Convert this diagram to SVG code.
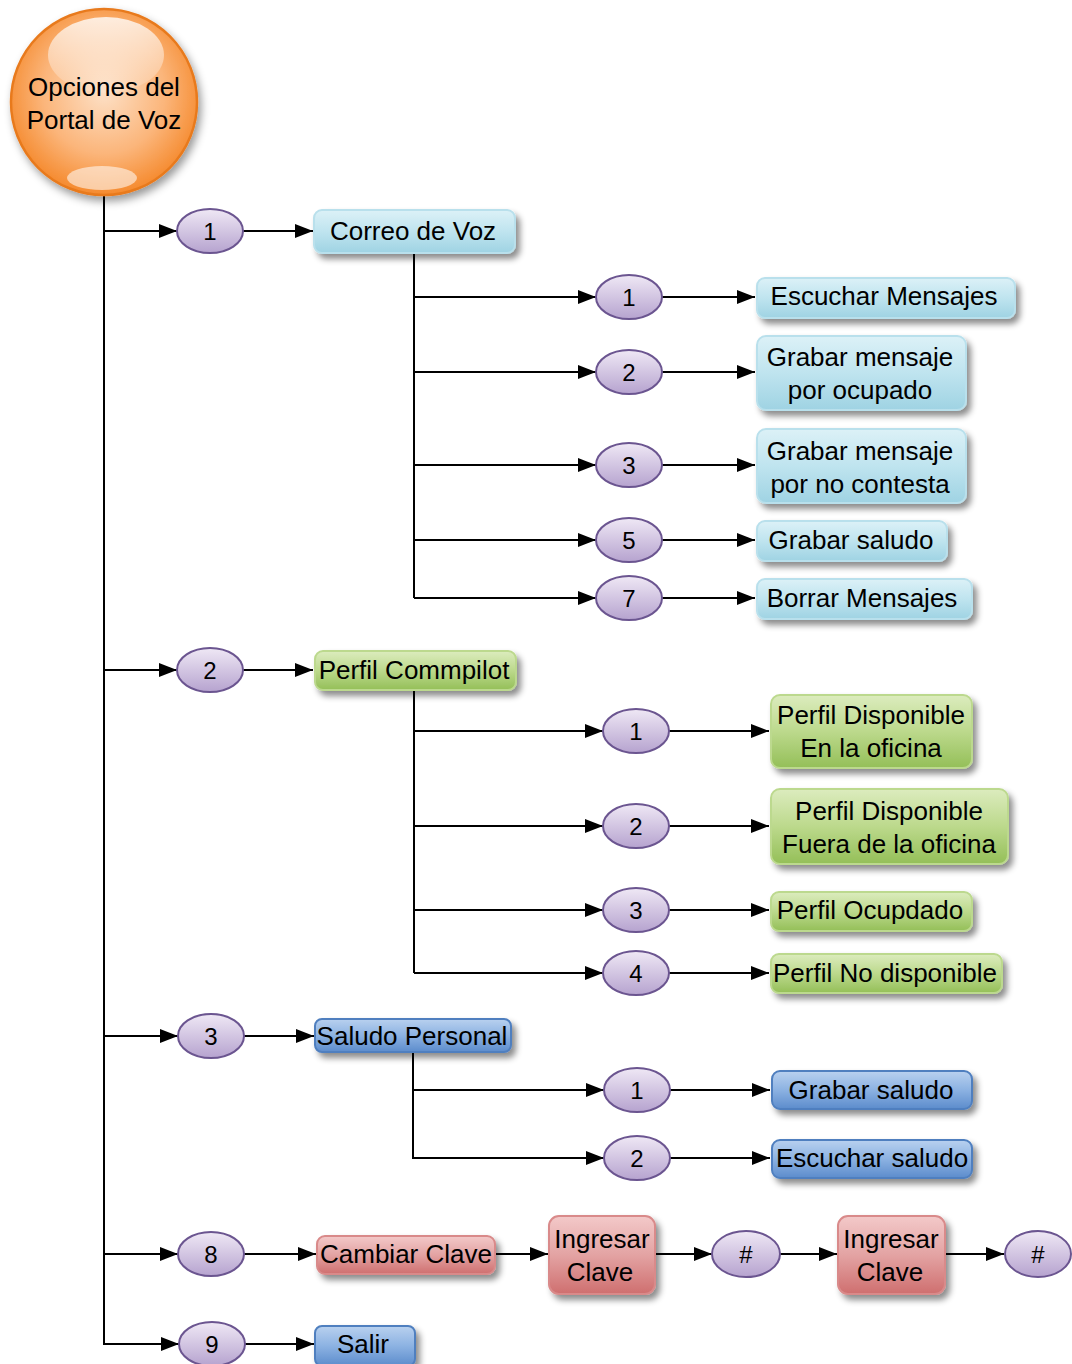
<svg xmlns="http://www.w3.org/2000/svg" width="1072" height="1364" viewBox="0 0 1072 1364">
<defs>
<style>
text{font-family:"Liberation Sans",Arial,sans-serif;fill:#000;text-anchor:middle}
.t{font-size:26px}
.n{font-size:24px}
.c{stroke:#000;stroke-width:2;fill:none}
.a{marker-end:url(#ah)}
.el{fill:url(#gEl);stroke:#6b5590;stroke-width:2}
.bc{fill:url(#gCy);stroke:#b9e0ec;stroke-width:2;filter:url(#sh)}
.bg{fill:url(#gGr);stroke:#bcd98e;stroke-width:2;filter:url(#sh)}
.bb{fill:url(#gBl);stroke:#4f7fbf;stroke-width:2;filter:url(#sh)}
.br{fill:url(#gRd);stroke:#d98a8a;stroke-width:2;filter:url(#sh)}
.hl{fill:#fff;opacity:0.25}
</style>
<marker id="ah" viewBox="0 0 18 14" refX="18" refY="7" markerWidth="18" markerHeight="14" markerUnits="userSpaceOnUse" orient="auto">
<path d="M0,0 L18,7 L0,14 Z" fill="#000"/>
</marker>
<filter id="sh" x="-10%" y="-20%" width="130%" height="160%">
<feDropShadow dx="4" dy="5" stdDeviation="3" flood-color="#000" flood-opacity="0.45"/>
</filter>
<filter id="shc" x="-20%" y="-20%" width="140%" height="140%">
<feDropShadow dx="3" dy="5" stdDeviation="4" flood-color="#000" flood-opacity="0.4"/>
</filter>
<linearGradient id="gEl" x1="0" y1="0" x2="0" y2="1">
<stop offset="0" stop-color="#efe8f5"/>
<stop offset="1" stop-color="#b6a3cf"/>
</linearGradient>
<linearGradient id="gCy" x1="0" y1="0" x2="0" y2="1">
<stop offset="0" stop-color="#dcf1f7"/>
<stop offset="0.5" stop-color="#bfe4ef"/>
<stop offset="1" stop-color="#9fd3e3"/>
</linearGradient>
<linearGradient id="gGr" x1="0" y1="0" x2="0" y2="1">
<stop offset="0" stop-color="#dcecbe"/>
<stop offset="0.5" stop-color="#bcd98c"/>
<stop offset="1" stop-color="#94bf58"/>
</linearGradient>
<linearGradient id="gBl" x1="0" y1="0" x2="0" y2="1">
<stop offset="0" stop-color="#b9d1ef"/>
<stop offset="0.5" stop-color="#8cb2e2"/>
<stop offset="1" stop-color="#5c8ccc"/>
</linearGradient>
<linearGradient id="gRd" x1="0" y1="0" x2="0" y2="1">
<stop offset="0" stop-color="#f3c9c9"/>
<stop offset="0.5" stop-color="#e3a3a3"/>
<stop offset="1" stop-color="#cf6f6f"/>
</linearGradient>
<radialGradient id="gOr" cx="0.5" cy="0.45" r="0.55">
<stop offset="0" stop-color="#fde0c6"/>
<stop offset="0.6" stop-color="#fbb57a"/>
<stop offset="1" stop-color="#f58a2e"/>
</radialGradient>
<linearGradient id="gOrHi" x1="0" y1="0" x2="0" y2="1">
<stop offset="0" stop-color="#fff" stop-opacity="0.8"/>
<stop offset="1" stop-color="#fff" stop-opacity="0.1"/>
</linearGradient>
</defs>

<g id="connectors">
<path class="c" d="M104,196 V1345"/>
<path class="c a" d="M104,231 H177"/>
<path class="c a" d="M243,231 H313"/>
<path class="c" d="M414,253 V598"/>
<path class="c a" d="M414,297 H596"/>
<path class="c a" d="M662,297 H755"/>
<path class="c a" d="M414,372 H596"/>
<path class="c a" d="M662,372 H755"/>
<path class="c a" d="M414,465 H596"/>
<path class="c a" d="M662,465 H755"/>
<path class="c a" d="M414,540 H596"/>
<path class="c a" d="M662,540 H755"/>
<path class="c a" d="M414,598 H596"/>
<path class="c a" d="M662,598 H755"/>
<path class="c a" d="M104,670 H177"/>
<path class="c a" d="M243,670 H313"/>
<path class="c" d="M414,690 V973"/>
<path class="c a" d="M414,731 H603"/>
<path class="c a" d="M669,731 H769"/>
<path class="c a" d="M414,826 H603"/>
<path class="c a" d="M669,826 H769"/>
<path class="c a" d="M414,910 H603"/>
<path class="c a" d="M669,910 H769"/>
<path class="c a" d="M414,973 H603"/>
<path class="c a" d="M669,973 H769"/>
<path class="c a" d="M104,1036 H178"/>
<path class="c a" d="M244,1036 H314"/>
<path class="c" d="M413,1052 V1159"/>
<path class="c a" d="M413,1090 H604"/>
<path class="c a" d="M670,1090 H770"/>
<path class="c a" d="M413,1158 H604"/>
<path class="c a" d="M670,1158 H770"/>
<path class="c a" d="M104,1254 H178"/>
<path class="c a" d="M244,1254 H316"/>
<path class="c a" d="M495,1254 H548"/>
<path class="c a" d="M655,1254 H712"/>
<path class="c a" d="M780,1254 H837"/>
<path class="c a" d="M945,1254 H1004"/>
<path class="c a" d="M104,1344 H179"/>
<path class="c a" d="M245,1344 H314"/>
</g>

<g id="root">
<circle cx="104" cy="102" r="93" fill="url(#gOr)" stroke="#e87a1e" stroke-width="2.5" filter="url(#shc)"/>
<ellipse cx="106" cy="55" rx="58" ry="38" fill="url(#gOrHi)"/>
<ellipse cx="102" cy="178" rx="35" ry="12" fill="#fff" opacity="0.55"/>
<text class="t" x="104" y="96">Opciones del</text>
<text class="t" x="104" y="129">Portal de Voz</text>
</g>

<g id="e1"><ellipse class="el" cx="210" cy="231" rx="33" ry="22"/><text class="n" x="210" y="240">1</text></g>
<g id="correo"><rect class="bc" x="314" y="210" width="201" height="43" rx="8"/><text class="t" x="413" y="240">Correo de Voz</text></g>

<g id="e1a"><ellipse class="el" cx="629" cy="297" rx="33" ry="22"/><text class="n" x="629" y="306">1</text></g>
<g id="escuchar"><rect class="bc" x="757" y="278" width="258" height="40" rx="8"/><text class="t" x="884" y="305">Escuchar Mensajes</text></g>
<g id="e1b"><ellipse class="el" cx="629" cy="372" rx="33" ry="22"/><text class="n" x="629" y="381">2</text></g>
<g id="ocupado"><rect class="bc" x="757" y="336" width="209" height="74" rx="9"/><text class="t" x="860" y="366">Grabar mensaje</text><text class="t" x="860" y="399">por ocupado</text></g>
<g id="e1c"><ellipse class="el" cx="629" cy="465" rx="33" ry="22"/><text class="n" x="629" y="474">3</text></g>
<g id="nocontesta"><rect class="bc" x="757" y="429" width="209" height="74" rx="9"/><text class="t" x="860" y="460">Grabar mensaje</text><text class="t" x="860" y="493">por no contesta</text></g>
<g id="e1d"><ellipse class="el" cx="629" cy="540" rx="33" ry="22"/><text class="n" x="629" y="549">5</text></g>
<g id="grabarsal1"><rect class="bc" x="757" y="521" width="190" height="40" rx="8"/><text class="t" x="851" y="549">Grabar saludo</text></g>
<g id="e1e"><ellipse class="el" cx="629" cy="598" rx="33" ry="22"/><text class="n" x="629" y="607">7</text></g>
<g id="borrar"><rect class="bc" x="757" y="579" width="215" height="40" rx="8"/><text class="t" x="862" y="607">Borrar Mensajes</text></g>

<g id="e2"><ellipse class="el" cx="210" cy="670" rx="33" ry="22"/><text class="n" x="210" y="679">2</text></g>
<g id="perfil"><rect class="bg" x="315" y="651" width="201" height="39" rx="8"/><text class="t" x="414" y="679">Perfil Commpilot</text></g>

<g id="e2a"><ellipse class="el" cx="636" cy="731" rx="33" ry="22"/><text class="n" x="636" y="740">1</text></g>
<g id="pdisp"><rect class="bg" x="771" y="695" width="201" height="73" rx="9"/><text class="t" x="871" y="724">Perfil Disponible</text><text class="t" x="871" y="757">En la oficina</text></g>
<g id="e2b"><ellipse class="el" cx="636" cy="826" rx="33" ry="22"/><text class="n" x="636" y="835">2</text></g>
<g id="pfuera"><rect class="bg" x="771" y="789" width="237" height="75" rx="9"/><text class="t" x="889" y="820">Perfil Disponible</text><text class="t" x="889" y="853">Fuera de la oficina</text></g>
<g id="e2c"><ellipse class="el" cx="636" cy="910" rx="33" ry="22"/><text class="n" x="636" y="919">3</text></g>
<g id="pocup"><rect class="bg" x="771" y="892" width="201" height="39" rx="8"/><text class="t" x="870" y="919">Perfil Ocupdado</text></g>
<g id="e2d"><ellipse class="el" cx="636" cy="973" rx="33" ry="22"/><text class="n" x="636" y="982">4</text></g>
<g id="pnodisp"><rect class="bg" x="771" y="954" width="231" height="39" rx="8"/><text class="t" x="885" y="982">Perfil No disponible</text></g>

<g id="e3"><ellipse class="el" cx="211" cy="1036" rx="33" ry="22"/><text class="n" x="211" y="1045">3</text></g>
<g id="saludo"><rect class="bb" x="315" y="1019" width="196" height="33" rx="7"/><text class="t" x="412" y="1045">Saludo Personal</text></g>

<g id="e3a"><ellipse class="el" cx="637" cy="1090" rx="33" ry="22"/><text class="n" x="637" y="1099">1</text></g>
<g id="grabarsal2"><rect class="bb" x="772" y="1071" width="200" height="38" rx="8"/><text class="t" x="871" y="1099">Grabar saludo</text></g>
<g id="e3b"><ellipse class="el" cx="637" cy="1158" rx="33" ry="22"/><text class="n" x="637" y="1167">2</text></g>
<g id="escsal"><rect class="bb" x="772" y="1140" width="200" height="38" rx="8"/><text class="t" x="872" y="1167">Escuchar saludo</text></g>

<g id="e8"><ellipse class="el" cx="211" cy="1254" rx="33" ry="22"/><text class="n" x="211" y="1263">8</text></g>
<g id="cambiar"><rect class="br" x="317" y="1236" width="178" height="38" rx="8"/><text class="t" x="406" y="1263">Cambiar Clave</text></g>
<g id="ingresar1"><rect class="br" x="549" y="1216" width="106" height="78" rx="10"/><text class="t" x="602" y="1248">Ingresar</text><text class="t" x="600" y="1281">Clave</text></g>
<g id="hash1"><ellipse class="el" cx="746" cy="1254" rx="34" ry="23"/><text class="n" x="746" y="1263">#</text></g>
<g id="ingresar2"><rect class="br" x="838" y="1216" width="107" height="78" rx="10"/><text class="t" x="891" y="1248">Ingresar</text><text class="t" x="890" y="1281">Clave</text></g>
<g id="hash2"><ellipse class="el" cx="1038" cy="1254" rx="33" ry="23"/><text class="n" x="1038" y="1263">#</text></g>

<g id="e9"><ellipse class="el" cx="212" cy="1344" rx="33" ry="22"/><text class="n" x="212" y="1353">9</text></g>
<g id="salir"><rect class="bb" x="315" y="1326" width="100" height="40" rx="7"/><text class="t" x="363" y="1353">Salir</text></g>
</svg>
